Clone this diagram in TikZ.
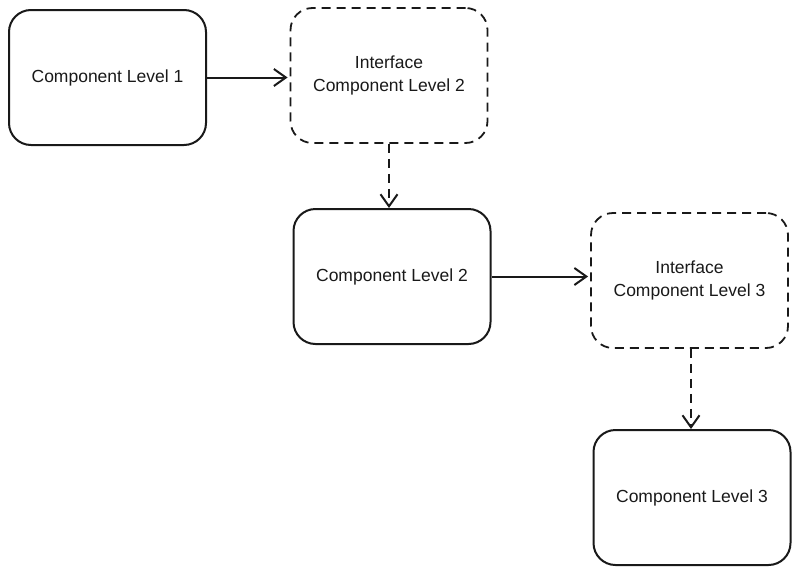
\documentclass[tikz,border=0pt]{standalone}
\usepackage{fontspec}
\setmainfont{Liberation Sans}
\usetikzlibrary{arrows.meta}
\begin{document}
\begin{tikzpicture}[x=1pt,y=-1pt,
  box/.style={draw=black!90, line width=2pt, rounded corners=22pt, minimum width=197pt, minimum height=135pt, align=center, inner sep=0pt, font=\fontsize{17.5}{23}\selectfont, text=black!90},
  ibox/.style={box, line width=1.8pt, dash pattern=on 9pt off 6pt},
  conn/.style={line width=2pt, draw=black!90, -{Straight Barb[length=12pt,width=17pt,line width=2pt]}},
  dconn/.style={conn, dash pattern=on 9pt off 6pt}
]
\useasboundingbox (0,0) rectangle (800,573);
\node[box] (b1) at (107.5,77.5) {Component Level 1};
\node[ibox] (i2) at (389,75.5) {Interface\\Component Level 2};
\node[box] (b2) at (392,276.5) {Component Level 2};
\node[ibox] (i3) at (689.5,280.5) {Interface\\Component Level 3};
\node[box] (b3) at (692,497.5) {Component Level 3};
\draw[conn] (b1.east) -- ([xshift=-2pt]i2.west |- b1.east);
\draw[dconn] (i2.south) -- (i2.south |- b2.north);
\draw[conn] (b2.east) -- ([xshift=-2pt]i3.west |- b2.east);
\draw[dconn] ([xshift=1.5pt]i3.south) -- ([xshift=1.5pt]i3.south |- b3.north);
\end{tikzpicture}
\end{document}
